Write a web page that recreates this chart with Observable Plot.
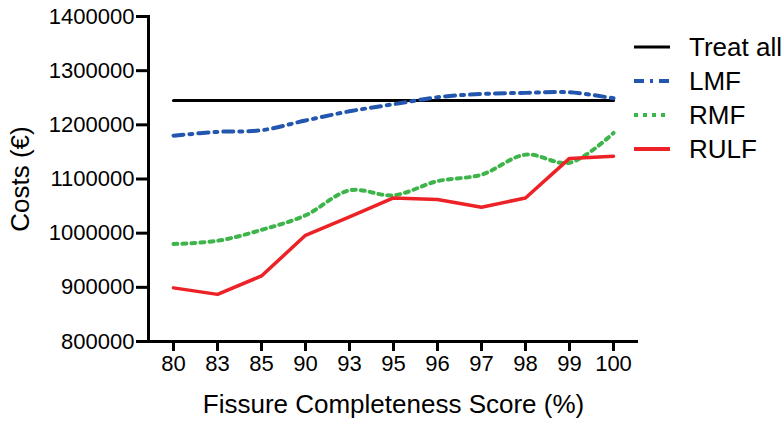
<!DOCTYPE html>
<html>
<head>
<meta charset="utf-8">
<script src="https://cdn.jsdelivr.net/npm/d3@7"></script>
<script src="https://cdn.jsdelivr.net/npm/@observablehq/plot@0.6"></script>
<style>
  body { margin: 0; background: #fff; font-family: "Liberation Sans", Arial, sans-serif; }
  #wrap { position: relative; width: 784px; height: 421px; }
  #legend { position: absolute; left: 633px; top: 30px; font-size: 26px; color: #000; }
  .item { display: flex; align-items: center; height: 34px; }
  .item svg { margin-right: 18px; }
  g[aria-label="y-axis label"], g[aria-label="x-axis label"],
  g[aria-label="y-axis label"] text, g[aria-label="x-axis label"] text { font-size: 26px; }
</style>
</head>
<body>
<div id="wrap"><div id="legend"></div></div>
<script>
const scores = ["80","83","85","90","93","95","96","97","98","99","100"];
const treatAll = [1245000,1245000,1245000,1245000,1245000,1245000,1245000,1245000,1245000,1245000,1245000];
const lmf  = [1180000,1187000,1190000,1208000,1225000,1238000,1251000,1257000,1259000,1260000,1249000];
const rmf  = [980000,986000,1006000,1033000,1079000,1070000,1096000,1108000,1145000,1130000,1185000];
const rulf = [899000,887000,921000,996000,1030000,1065000,1062000,1048000,1065000,1138000,1142000];

const seriesNames = ["Treat all","LMF","RMF","RULF"];
const seriesColors = ["#000000","#2356ae","#3db54a","#ec2227"];
const seriesDash = [null,"10,6,3,6","4,5",null];

const rows = (vals) => scores.map((s, i) => ({score: s, value: vals[i]}));

const chart = Plot.plot({
  width: 784,
  height: 421,
  marginLeft: 148,
  marginTop: 16,
  marginBottom: 80,
  marginRight: 146,
  style: {fontFamily: "'Liberation Sans', Arial, sans-serif", fontSize: "22px", color: "#000", background: "#fff"},
  x: {type: "point", domain: scores, padding: 0.5},
  y: {domain: [800000, 1400000]},
  marks: [
    Plot.frame({anchor: "left", stroke: "#000", strokeWidth: 3}),
    Plot.ruleY([800000], {stroke: "#000", strokeWidth: 3}),
    Plot.axisY({ticks: d3.range(800000, 1400001, 100000), tickFormat: d3.format("d"), tickSize: 12, tickPadding: 2, strokeWidth: 3, fontSize: 22,
                label: "Costs (€)", labelAnchor: "center", labelArrow: "none", labelOffset: 138}),
    Plot.axisX({tickSize: 10, tickPadding: 4, strokeWidth: 3, fontSize: 22,
                label: "Fissure Completeness Score (%)", labelAnchor: "center", labelArrow: "none", labelOffset: 71}),
    Plot.line(rows(treatAll), {x: "score", y: "value", stroke: seriesColors[0], strokeWidth: 3}),
    Plot.line(rows(lmf), {x: "score", y: "value", stroke: seriesColors[1], strokeWidth: 4, strokeDasharray: seriesDash[1], curve: "catmull-rom"}),
    Plot.line(rows(rmf), {x: "score", y: "value", stroke: seriesColors[2], strokeWidth: 4, strokeDasharray: seriesDash[2], curve: "catmull-rom"}),
    Plot.line(rows(rulf), {x: "score", y: "value", stroke: seriesColors[3], strokeWidth: 3.5})
  ]
});
const wrap = document.getElementById("wrap");
wrap.insertBefore(chart, wrap.firstChild);

const legend = d3.select("#legend");
seriesNames.forEach((name, i) => {
  const item = legend.append("div").attr("class", "item");
  const s = item.append("svg").attr("width", 38).attr("height", 10);
  s.append("line").attr("x1", 1).attr("x2", 37).attr("y1", 5).attr("y2", 5)
    .attr("stroke", seriesColors[i]).attr("stroke-width", i === 0 ? 3 : 4)
    .attr("stroke-dasharray", seriesDash[i]);
  item.append("span").text(name);
});
</script>
</body>
</html>
